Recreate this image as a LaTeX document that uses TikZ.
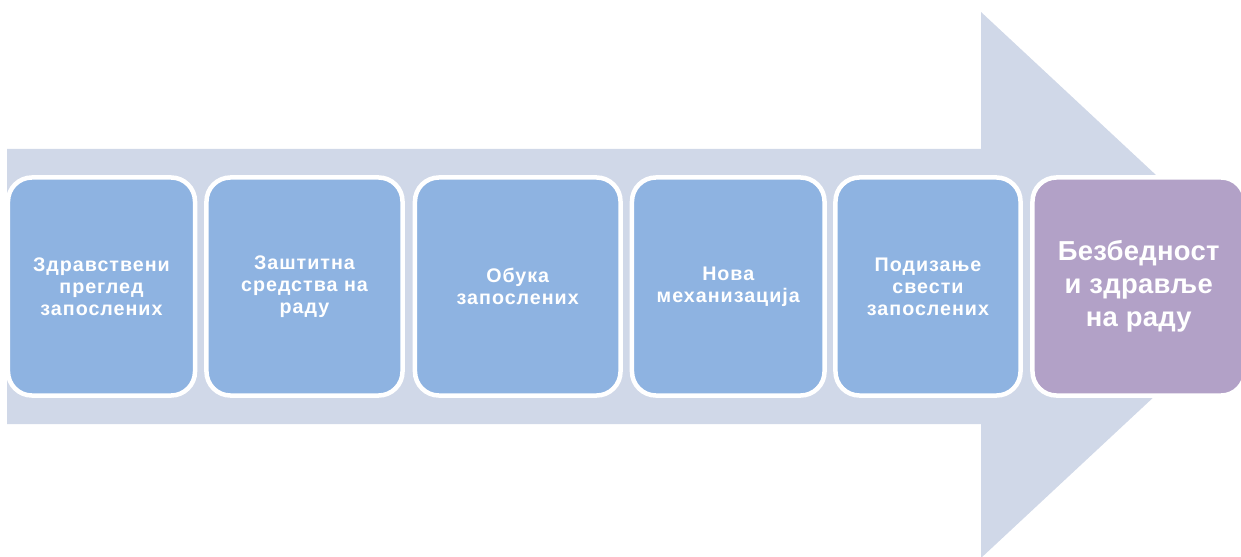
\documentclass[tikz,border=0pt]{standalone}
\usepackage{fontspec}
\setmainfont{Liberation Sans}
\newfontfamily\stagefont[LetterSpace=5]{Liberation Sans}
\newfontfamily\goalfont[LetterSpace=1]{Liberation Sans}
\usetikzlibrary{shapes}

\definecolor{shaftgray}{RGB}{208,216,232}
\definecolor{stepblue}{RGB}{142,179,225}
\definecolor{goalpurple}{RGB}{178,161,199}

\begin{document}
\begin{tikzpicture}[x=0.025cm,y=-0.025cm]
    \tikzstyle{stage}=[rectangle,rounded corners=0.6cm,draw=white,line width=3.2pt,
      fill=stepblue,text=white,align=center,minimum height=5.45cm,
      font=\stagefont\fontsize{14}{15.6}\selectfont\bfseries]
    \tikzstyle{goal}=[stage,fill=goalpurple,font=\goalfont\fontsize{19.5}{23.4}\selectfont\bfseries]
    \useasboundingbox (0,0) rectangle (1241,557);
    % big arrow in the back
    \coordinate (tail top) at (7,149);
    \coordinate (tail bottom) at (7,424);
    \coordinate (tip) at (1274,285);
    \fill[shaftgray] (tail top) -- (981,149) -- (981,12) -- (tip)
      -- (981,558) -- (981,424) -- (tail bottom) -- cycle;
    % steps
    \node[stage,minimum width=4.675cm] (exam) at (101.5,286.5)
      {Здравствени\\преглед\\запослених};
    \node[stage,minimum width=4.9cm] (gear) at (304.5,286.5)
      {Заштитна\\средства на\\раду};
    \node[stage,minimum width=5.1375cm] (training) at (517.75,286.5)
      {Обука\\запослених};
    \node[stage,minimum width=4.8125cm] (machines) at (728.25,286.5)
      {Нова\\механизација};
    \node[stage,minimum width=4.625cm] (awareness) at (928,286.5)
      {Подизање\\свести\\запослених};
    \node[goal,minimum width=5.3125cm] (safety) at (1138.75,286.5)
      {Безбедност\\и здравље\\на раду};
\end{tikzpicture}
\end{document}
